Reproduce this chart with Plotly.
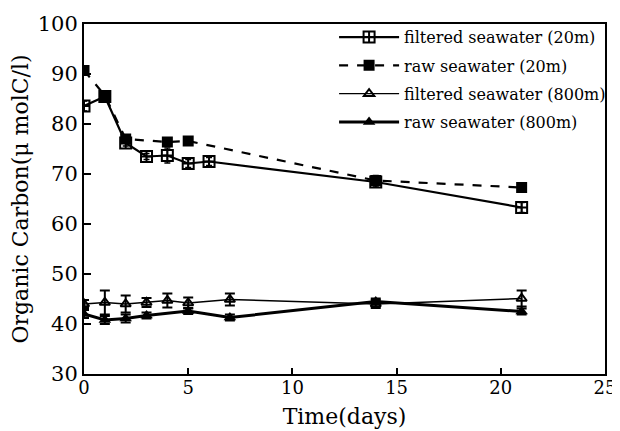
import plotly.graph_objects as go

# ---- data ----
days_f20 = [0, 1, 2, 3, 4, 5, 6, 14, 21]
filtered_20m = [83.6, 85.5, 76.2, 73.5, 73.7, 72.1, 72.5, 68.4, 63.3]
err_f20 = [1.0, 0.6, 0.6, 0.6, 1.5, 0.8, 0.8, 0.8, 1.0]

days_r20 = [0, 1, 2, 4, 5, 14, 21]
raw_20m = [90.7, 85.7, 77.0, 76.4, 76.6, 68.7, 67.3]
err_r20 = [0.8, 0.6, 0.8, 0.8, 0.6, 1.0, 0.6]

days_f800 = [0, 1, 2, 3, 4, 5, 7, 14, 21]
filtered_800m = [44.0, 44.3, 44.0, 44.3, 44.7, 44.2, 44.9, 44.0, 45.1]
err_f800 = [0.8, 2.4, 1.7, 0.9, 1.4, 1.1, 1.2, 0.8, 1.6]

days_r800 = [0, 1, 2, 3, 5, 7, 14, 21]
raw_800m = [42.0, 40.8, 41.1, 41.7, 42.6, 41.3, 44.5, 42.5]
err_r800 = [0.8, 0.8, 0.8, 0.6, 0.6, 0.6, 0.6, 0.6]

names = ["filtered seawater (20m)", "raw seawater (20m)",
         "filtered seawater (800m)", "raw seawater (800m)"]

x_ticks = [0, 5, 10, 15, 20, 25]
y_ticks = [30, 40, 50, 60, 70, 80, 90, 100]

FONT = "DejaVu Serif"

fig = go.Figure()

fig.add_trace(go.Scatter(
    x=days_f20, y=filtered_20m, name=names[0], legendgroup="a",
    mode="lines+markers",
    line=dict(color="black", width=2.2),
    marker=dict(symbol="square-cross-open", size=11, color="black",
                line=dict(width=2, color="black")),
    error_y=dict(type="data", array=err_f20, color="black", thickness=1.5, width=3),
))
fig.add_trace(go.Scatter(
    x=days_r20, y=raw_20m, name=names[1], legendgroup="b",
    mode="lines+markers",
    line=dict(color="black", width=2.2, dash="dash"),
    marker=dict(symbol="square", size=11, color="black"),
    error_y=dict(type="data", array=err_r20, color="black", thickness=1.5, width=3),
))
fig.add_trace(go.Scatter(
    x=days_f800, y=filtered_800m, name=names[2], legendgroup="c",
    mode="lines+markers",
    line=dict(color="black", width=1.4),
    marker=dict(symbol="triangle-up-open", size=9, color="black",
                line=dict(width=2, color="black")),
    error_y=dict(type="data", array=err_f800, color="black", thickness=2, width=5),
))
fig.add_trace(go.Scatter(
    x=days_r800, y=raw_800m, name=names[3], legendgroup="d",
    mode="lines+markers",
    line=dict(color="black", width=3),
    marker=dict(symbol="triangle-up", size=11, color="black"),
    error_y=dict(type="data", array=err_r800, color="black", thickness=2, width=5),
))

fig.update_layout(
    width=620, height=431,
    margin=dict(l=76, r=23, t=12, b=65),
    paper_bgcolor="white", plot_bgcolor="white",
    font=dict(family=FONT, color="black"),
    showlegend=True,
    legend=dict(
        x=0.48, y=1.011, xanchor="left", yanchor="top",
        bgcolor="rgba(0,0,0,0)", borderwidth=0,
        font=dict(family=FONT, size=16, color="black"),
        itemwidth=60, tracegroupgap=4.5, traceorder="grouped",
    ),
    xaxis=dict(
        range=[0, 25], tickvals=x_ticks, ticktext=[str(v) for v in x_ticks],
        automargin=False,
        showgrid=False, zeroline=False,
        showline=True, linecolor="black", linewidth=2, mirror=True,
        ticks="inside", ticklen=6, tickwidth=1.5, tickcolor="black",
        tickfont=dict(family=FONT, size=18, color="black"),
        ticklabelstandoff=-4,
        title=dict(text="Time(days)", font=dict(family=FONT, size=22, color="black"),
                   standoff=12),
    ),
    yaxis=dict(
        range=[30, 100], tickvals=y_ticks, ticktext=[str(v) for v in y_ticks],
        automargin=False,
        showgrid=False, zeroline=False,
        showline=True, linecolor="black", linewidth=2, mirror=True,
        ticks="inside", ticklen=7, tickwidth=1.5, tickcolor="black",
        tickfont=dict(family=FONT, size=21, color="black"),
        title=dict(text="Organic Carbon(μ molC/l)",
                   font=dict(family=FONT, size=22, color="black"), standoff=4),
    ),
)

fig.write_html("out.html")
